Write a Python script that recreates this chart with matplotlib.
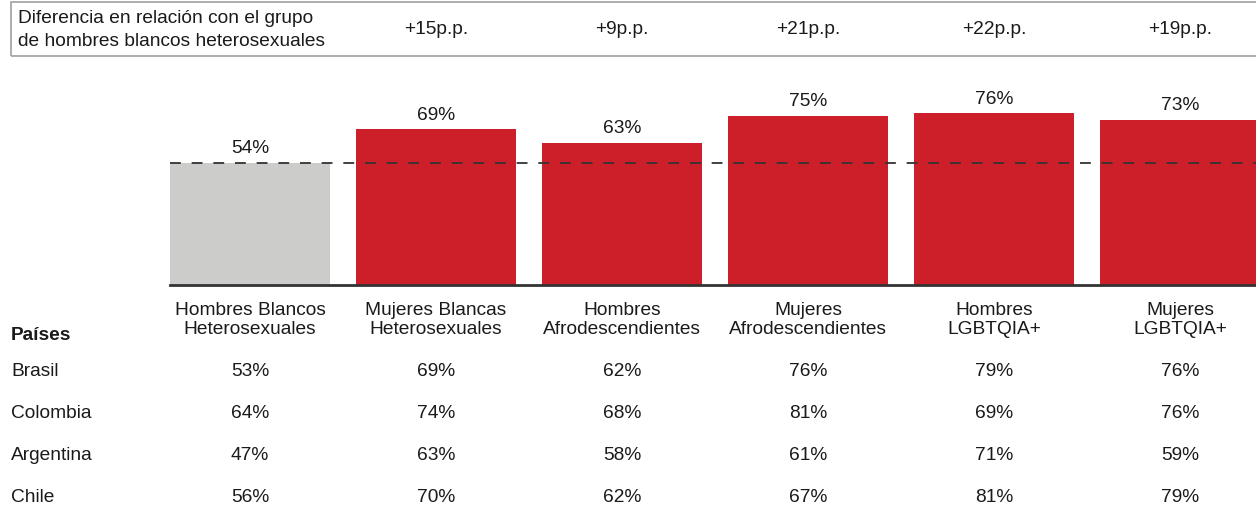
import matplotlib

matplotlib.use("Agg")

import matplotlib.pyplot as plt
import matplotlib.transforms as mtransforms
from matplotlib.patches import Rectangle

plt.rcParams["font.family"] = ["Liberation Sans", "DejaVu Sans"]

groups = [
    "Hombres Blancos\nHeterosexuales",
    "Mujeres Blancas\nHeterosexuales",
    "Hombres\nAfrodescendientes",
    "Mujeres\nAfrodescendientes",
    "Hombres\nLGBTQIA+",
    "Mujeres\nLGBTQIA+",
]
overall = [54, 69, 63, 75, 76, 73]

countries = ["Brasil", "Colombia", "Argentina", "Chile"]
brasil = [53, 69, 62, 76, 79, 76]
colombia = [64, 74, 68, 81, 69, 76]
argentina = [47, 63, 58, 61, 71, 59]
chile = [56, 70, 62, 67, 81, 79]
country_values = [brasil, colombia, argentina, chile]

RED = "#cc1f29"
GREY = "#cccccb"
TEXT = "#1a1a1a"
FS = 13.8

W, H = 1256, 512
fig = plt.figure(figsize=(W / 100, H / 100), dpi=100)

# bar panel, placed in pixel terms: baseline at y=285, 2.26 px per percent
px_per_pct = 2.26
ymax = 90
base_y = 285
ax = fig.add_axes([170 / W, (H - base_y) / H, (W - 170) / W, ymax * px_per_pct / H])

x = list(range(len(groups)))
colors = [GREY] + [RED] * (len(groups) - 1)
ax.bar(x, overall, width=0.86, color=colors, zorder=2)
ax.set_xlim(-0.43, (W - 250) / 186)
ax.set_ylim(0, ymax)

ax.axhline(overall[0], color="#333333", lw=1.3, dashes=(6, 6), zorder=3)

for xi, v in zip(x, overall):
    ax.annotate(f"{v}%", (xi, v), xytext=(0, 4), textcoords="offset points",
                ha="center", va="bottom", fontsize=FS, color=TEXT)

for side in ["top", "right", "left"]:
    ax.spines[side].set_visible(False)
ax.spines["bottom"].set_color("#333333")
ax.spines["bottom"].set_linewidth(2)
ax.spines["bottom"].set_zorder(4)
ax.set_yticks([])
ax.set_xticks(x)
ax.set_xticklabels(groups, fontsize=FS, color=TEXT, linespacing=1.2)
ax.tick_params(axis="x", length=0, pad=12)

# columns follow the bar centres, rows in figure pixels
col = mtransforms.blended_transform_factory(ax.transData, fig.transFigure)


def fy(py):
    return 1 - py / H


# header box with the difference to the reference group
fig.add_artist(Rectangle((11 / W, fy(56)), (W + 10) / W, 54 / H, transform=fig.transFigure,
                         facecolor="none", edgecolor="#a0a0a0", lw=1.2))
fig.text(18 / W, fy(30), "Diferencia en relación con el grupo\nde hombres blancos heterosexuales",
         ha="left", va="center", fontsize=FS, color=TEXT, linespacing=1.5)
for xi, v in zip(x[1:], overall[1:]):
    fig.text(xi, fy(29), f"+{v - overall[0]}p.p.", transform=col,
             ha="center", va="center", fontsize=FS, color=TEXT)

# country breakdown table
fig.text(11 / W, fy(336), "Países", ha="left", va="center", fontsize=FS,
         fontweight="bold", color=TEXT)
row_y = [371, 413, 456, 498]
for name, vals, py in zip(countries, country_values, row_y):
    fig.text(11 / W, fy(py), name, ha="left", va="center", fontsize=FS, color=TEXT)
    for xi, v in zip(x, vals):
        fig.text(xi, fy(py), f"{v}%", transform=col, ha="center", va="center",
                 fontsize=FS, color=TEXT)

fig.savefig("out.png", dpi=100)
